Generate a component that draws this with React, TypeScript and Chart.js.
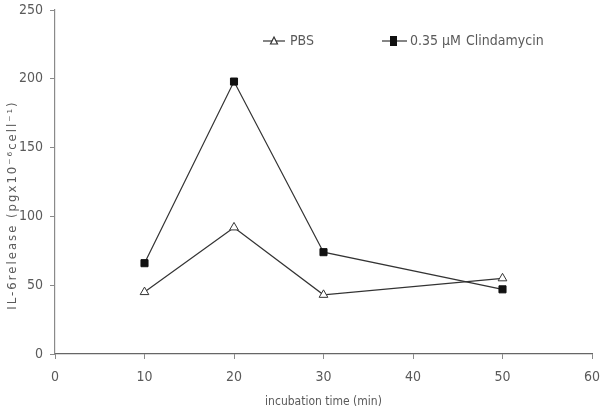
import React, { useEffect, useRef } from "react";
import { Chart, registerables } from "chart.js";

Chart.register(...registerables);

const timesPBS = [10, 20, 30, 50];
const valuesPBS = [45, 92, 43, 55];
const timesClin = [10, 20, 30, 50];
const valuesClin = [66, 198, 74, 47];
const xTicks = [0, 10, 20, 30, 40, 50, 60];
const yTicks = [0, 50, 100, 150, 200, 250];
const labelPBS = "PBS";
const labelClinDose = "0.35 µM";
const labelClinName = "Clindamycin";
const xTitle = "incubation time (min)";
const yTitle = "IL-6release (pgx10⁻⁶cell⁻¹)";

const FAMILY = "'DejaVu Sans', sans-serif";
const STRETCH = "condensed";
const TEXT = "#5a5a5a";
const AXIS = "#8a8a8a";
const LINE = "#333333";

const overlay = {
  id: "overlay",
  afterDraw(chart: any) {
    const ctx = chart.ctx;
    ctx.save();
    ctx.fillStyle = TEXT;
    ctx.font = `${STRETCH} 13px ${FAMILY}`;
    (ctx as any).letterSpacing = "2px";
    ctx.translate(13, 205);
    ctx.rotate(-Math.PI / 2);
    ctx.textAlign = "center";
    ctx.textBaseline = "middle";
    ctx.fillText(yTitle, 0, 0);
    ctx.restore();

    ctx.save();
    const ly = 41;
    ctx.strokeStyle = LINE;
    ctx.lineWidth = 1.2;
    ctx.beginPath();
    ctx.moveTo(263, ly);
    ctx.lineTo(285, ly);
    ctx.stroke();
    ctx.fillStyle = "#ffffff";
    ctx.beginPath();
    ctx.moveTo(274, ly - 4);
    ctx.lineTo(277.5, ly + 3);
    ctx.lineTo(270.5, ly + 3);
    ctx.closePath();
    ctx.fill();
    ctx.stroke();
    ctx.beginPath();
    ctx.moveTo(382, ly);
    ctx.lineTo(407, ly);
    ctx.stroke();
    ctx.fillStyle = "#111111";
    ctx.fillRect(390, ly - 5, 7, 10);
    ctx.fillStyle = TEXT;
    ctx.font = `${STRETCH} 14px ${FAMILY}`;
    ctx.textBaseline = "middle";
    ctx.textAlign = "left";
    ctx.fillText(labelPBS, 290, ly);
    ctx.fillText(labelClinDose, 410, ly);
    ctx.fillText(labelClinName, 466, ly);
    ctx.restore();
  },
};

export default function App() {
  const ref = useRef<HTMLCanvasElement>(null);
  useEffect(() => {
    if (!ref.current) return;
    const chart = new Chart(ref.current, {
      type: "scatter",
      data: {
        datasets: [
          {
            label: labelPBS,
            data: timesPBS.map((t, i) => ({ x: t, y: valuesPBS[i] })),
            showLine: true,
            borderColor: LINE,
            borderWidth: 1.2,
            pointStyle: "triangle",
            pointRadius: 5,
            pointBackgroundColor: "#ffffff",
            pointBorderColor: LINE,
            pointBorderWidth: 1,
          },
          {
            label: labelClinDose + " " + labelClinName,
            data: timesClin.map((t, i) => ({ x: t, y: valuesClin[i] })),
            showLine: true,
            borderColor: LINE,
            borderWidth: 1.2,
            pointStyle: "rect",
            pointRadius: 5,
            pointBackgroundColor: "#111111",
            pointBorderColor: "#111111",
            pointBorderWidth: 1,
          },
        ],
      },
      options: {
        animation: false,
        responsive: false,
        maintainAspectRatio: false,
        layout: { padding: { top: 10, right: 8, left: 0, bottom: 0 } },
        plugins: { legend: { display: false }, tooltip: { enabled: false } },
        scales: {
          x: {
            type: "linear",
            min: 0,
            max: 60,
            afterBuildTicks: (s: any) => {
              s.ticks = xTicks.map((v) => ({ value: v }));
            },
            afterFit: (s: any) => {
              s.height = 61;
              s.paddingLeft = 0;
              s.paddingRight = 0;
            },
            grid: { drawOnChartArea: false, drawTicks: true, tickLength: 5, color: AXIS },
            border: { color: "#666666", width: 1.2 },
            ticks: { color: TEXT, font: { family: FAMILY, weight: STRETCH, size: 14 }, padding: 10, maxRotation: 0 },
            title: { display: true, text: xTitle, color: TEXT, font: { family: FAMILY, weight: STRETCH, size: 12 }, padding: { top: 2, bottom: 6 } },
          },
          y: {
            type: "linear",
            min: 0,
            max: 250,
            afterBuildTicks: (s: any) => {
              s.ticks = yTicks.map((v) => ({ value: v }));
            },
            afterFit: (s: any) => {
              s.width = 55;
              s.paddingTop = 0;
              s.paddingBottom = 0;
            },
            grid: { drawOnChartArea: false, drawTicks: true, tickLength: 5, color: AXIS },
            border: { color: AXIS, width: 1.2 },
            ticks: { color: TEXT, font: { family: FAMILY, weight: STRETCH, size: 14 }, padding: 7 },
          },
        },
      },
      plugins: [overlay],
    });
    return () => chart.destroy();
  }, []);
  return (
    <div style={{ position: "fixed", left: 0, top: 0, width: 600, height: 415, background: "#fff" }}>
      <canvas ref={ref} width={600} height={415} style={{ width: 600, height: 415 }} />
    </div>
  );
}
